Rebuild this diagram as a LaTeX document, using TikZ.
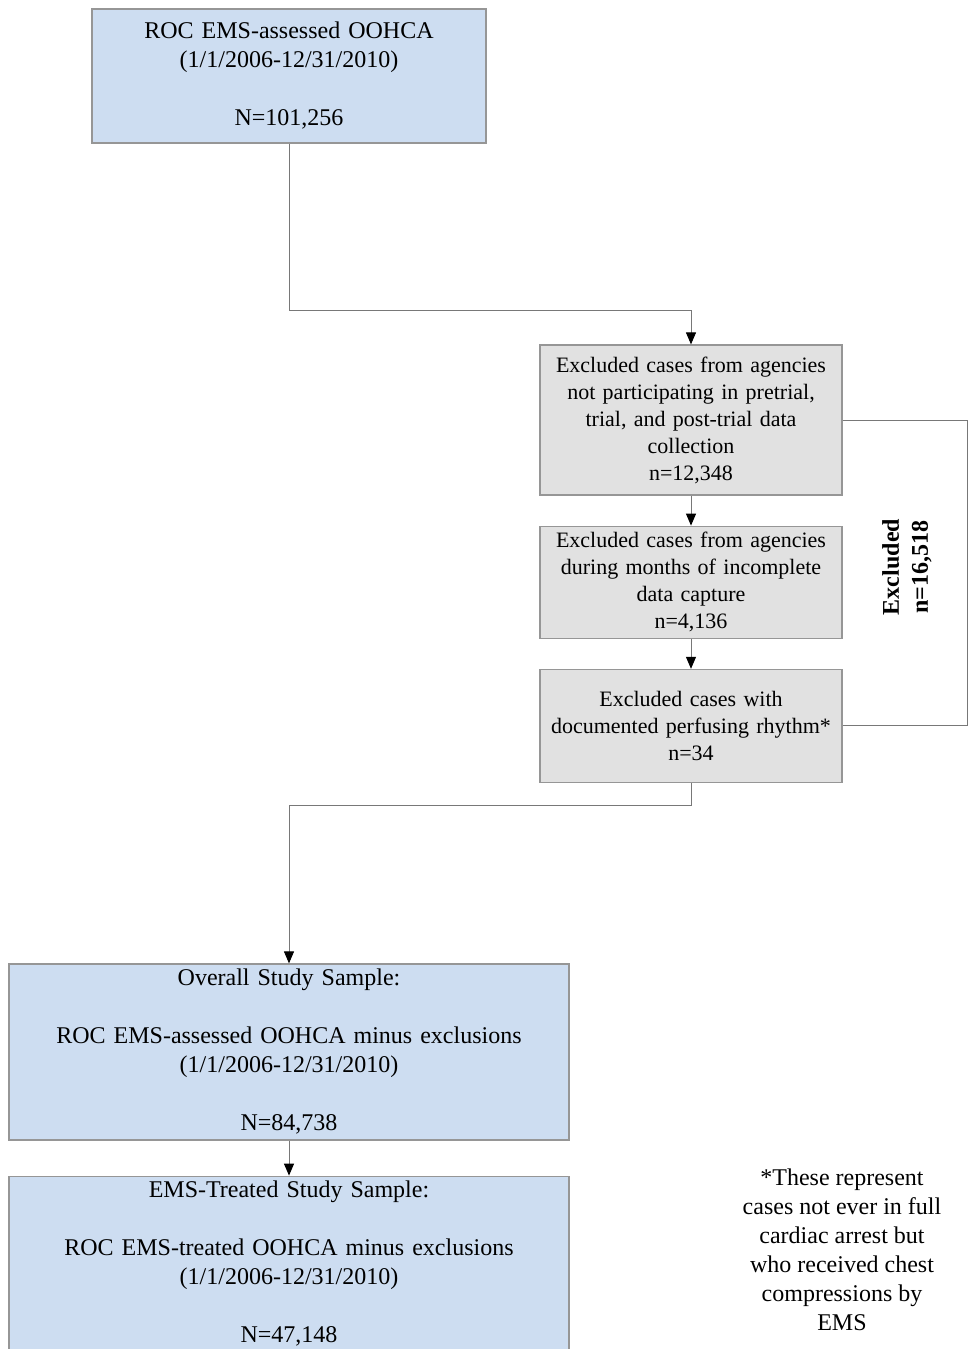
\documentclass[tikz,border=0pt]{standalone}
\usepackage{fontspec}
\setmainfont{Liberation Serif}
\usepackage{xcolor}
\usepackage{tikz}
\usetikzlibrary{arrows.meta,positioning}
\definecolor{SkyFill}{RGB}{205,221,241}
\definecolor{GreyFill}{RGB}{225,225,225}
\definecolor{Edge}{RGB}{150,150,150}
\definecolor{Wire}{RGB}{120,120,120}

\begin{document}
\begin{tikzpicture}[
    x=0.5pt,y=-0.5pt,
    node distance=15pt,
    samplebox/.style={draw=Edge,line width=0.6pt,fill=SkyFill,align=center,
      inner xsep=4pt,inner ysep=1pt,font=\fontsize{12}{14.5}\selectfont},
    exclbox/.style={draw=Edge,line width=0.6pt,fill=GreyFill,align=center,
      text width=143pt,inner xsep=4pt,inner ysep=1pt,font=\fontsize{11}{13.5}\selectfont},
    arrow/.style={-{Triangle[length=6pt,width=5pt,color=black]},line width=0.5pt,draw=Wire},
    link/.style={line width=0.5pt,draw=Wire}
]
\useasboundingbox[fill=white] (0,0) rectangle (968,1349);

\node[samplebox,text width=189pt,minimum height=67pt] (assessed) at (289,76)
  {ROC EMS-assessed OOHCA\\(1/1/2006-12/31/2010)\\[14.5pt]N=101,256};

\node[exclbox,minimum height=75pt] (nonpart) at (691,420)
  {Excluded cases from agencies\\not participating in pretrial,\\trial, and post-trial data\\collection\\n=12,348};
\node[exclbox,minimum height=56pt,below=of nonpart] (incomplete)
  {Excluded cases from agencies\\during months of incomplete\\data capture\\n=4,136};
\node[exclbox,minimum height=56.5pt,below=of incomplete] (perfusing)
  {Excluded cases with\\documented perfusing rhythm*\\n=34};

\node[samplebox,text width=272pt,minimum height=88pt] (overall) at (289,1052)
  {Overall Study Sample:\\[14.5pt]ROC EMS-assessed OOHCA minus exclusions\\(1/1/2006-12/31/2010)\\[14.5pt]N=84,738};
\node[samplebox,text width=272pt,minimum height=87pt,below=17.5pt of overall] (treated)
  {EMS-Treated Study Sample:\\[14.5pt]ROC EMS-treated OOHCA minus exclusions\\(1/1/2006-12/31/2010)\\[14.5pt]N=47,148};

\node[rotate=90,align=center,font=\fontsize{12}{14.5}\selectfont\bfseries] (total) at (907,567)
  {Excluded\\n=16,518};

\node[align=center,font=\fontsize{12}{14.5}\selectfont] (note) at (842,1250)
  {*These represent\\cases not ever in full\\cardiac arrest but\\who received chest\\compressions by\\EMS};

\draw[arrow] (assessed.south) -- ++(0,167) -| (nonpart.north);
\draw[arrow] (nonpart) -- (incomplete);
\draw[arrow] (incomplete) -- (perfusing);
\draw[arrow] (perfusing.south) -- ++(0,22) -| (overall.north);
\draw[arrow] (overall) -- (treated);
\draw[link] (nonpart.east) -- ++(125,0) |- (perfusing.east);
\end{tikzpicture}
\end{document}
